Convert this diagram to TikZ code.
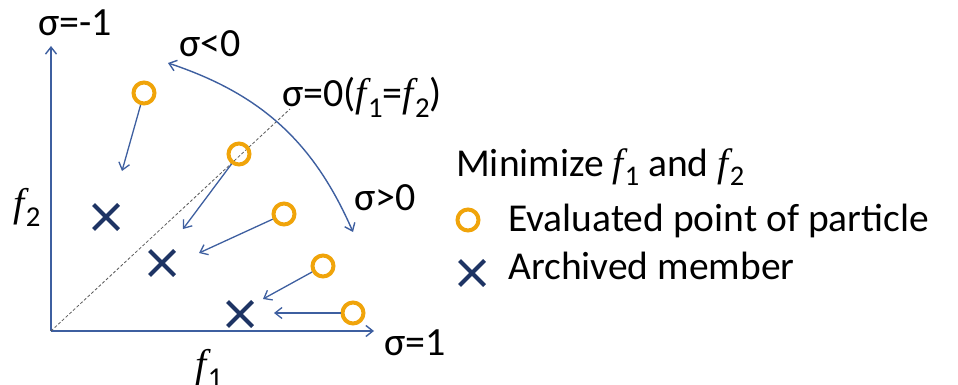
\documentclass[tikz,border=0pt]{standalone}
\usepackage{graphicx}
\usepackage{fontspec}
\setmainfont{Carlito}
\newfontfamily\serifit{Liberation Serif}
\usetikzlibrary{arrows.meta,positioning,shapes.misc}
\definecolor{axisblue}{RGB}{62,95,160}
\definecolor{ringorange}{RGB}{240,164,10}
\definecolor{crossnavy}{RGB}{30,52,100}
\newcommand{\fv}[1]{{\serifit\itshape f}\kern0.03em\raisebox{-0.25em}{\scalebox{0.72}{#1}}}
\begin{document}
\begin{tikzpicture}[x=1pt,y=-1pt,
  >={Straight Barb[length=7pt,width=11pt]},
  axis/.style={draw=axisblue,line width=1.4pt,->},
  move/.style={draw=axisblue,line width=1.3pt,->},
  ring/.style={circle,draw=ringorange,line width=4pt,minimum size=21pt,inner sep=0pt},
  archived/.style={cross out,draw=crossnavy,line width=4pt,minimum size=21pt,inner sep=0pt},
  lab/.style={font=\fontsize{40}{46}\selectfont,inner sep=0pt,anchor=base},
  legend/.style={font=\fontsize{39.5}{46}\selectfont,inner sep=0pt,anchor=base west}]
\useasboundingbox (0,0) rectangle (958,385);
% axes
\coordinate (origin) at (51,331);
\coordinate (ytop) at (51,46);
\coordinate (xend) at (374,331);
\draw[axis] (origin) -- (ytop);
\draw[axis] (origin) -- (xend);
\coordinate (diag) at (290,109);
\draw[gray!70!black,densely dashed,line width=0.8pt] (origin) -- (diag);
% sigma labels
\node[lab] (sneg) at (75,36) {σ=-1};
\node[lab] (slt) at (210,57) {σ<0};
\node[lab] (szero) at (362,107) {σ=0(\fv{1}=\fv{2})};
\node[lab] (sgt) at (385,210) {σ>0};
\node[lab] (spos) at (415,355) {σ=1};
\node[lab,anchor=center] (fone) at (209,368) {\fv{1}};
\node[lab,anchor=center] (ftwo) at (27,207) {\fv{2}};
% sweep of sigma
\coordinate (arctop) at (168,63);
\coordinate (arcbot) at (353,232);
\draw[axis,<->] (arctop) to[bend left=24] (arcbot);
% evaluated points
\node[ring] (p1) at (144,93) {};
\node[ring] (p2) at (239,154) {};
\node[ring] (p3) at (284,214) {};
\node[ring] (p4) at (323,266) {};
\node[ring] (p5) at (353,313) {};
% archived members
\node[archived] (a1) at (106,217) {};
\node[archived] (a2) at (162,263) {};
\node[archived] (a3) at (240,314) {};
% moves
\coordinate (t1) at (122,171);
\coordinate (t2) at (183,229);
\coordinate (t3) at (199,253);
\coordinate (t4) at (263,299);
\coordinate (t5) at (274,313);
\draw[move] (p1) -- (t1);
\draw[move] (p2) -- (t2);
\draw[move] (p3) -- (t3);
\draw[move] (p4) -- (t4);
\draw[move] (p5) -- (t5);
% legend
\node[legend] (goal) at (456,176) {Minimize \fv{1} and \fv{2}};
\node[ring] (keyring) at (468,220) {};
\node[legend] (keyp) at (508,231) {Evaluated point of particle};
\node[archived] (keycross) at (472,273) {};
\node[legend] (keya) at (508,279) {Archived member};
\end{tikzpicture}
\end{document}
